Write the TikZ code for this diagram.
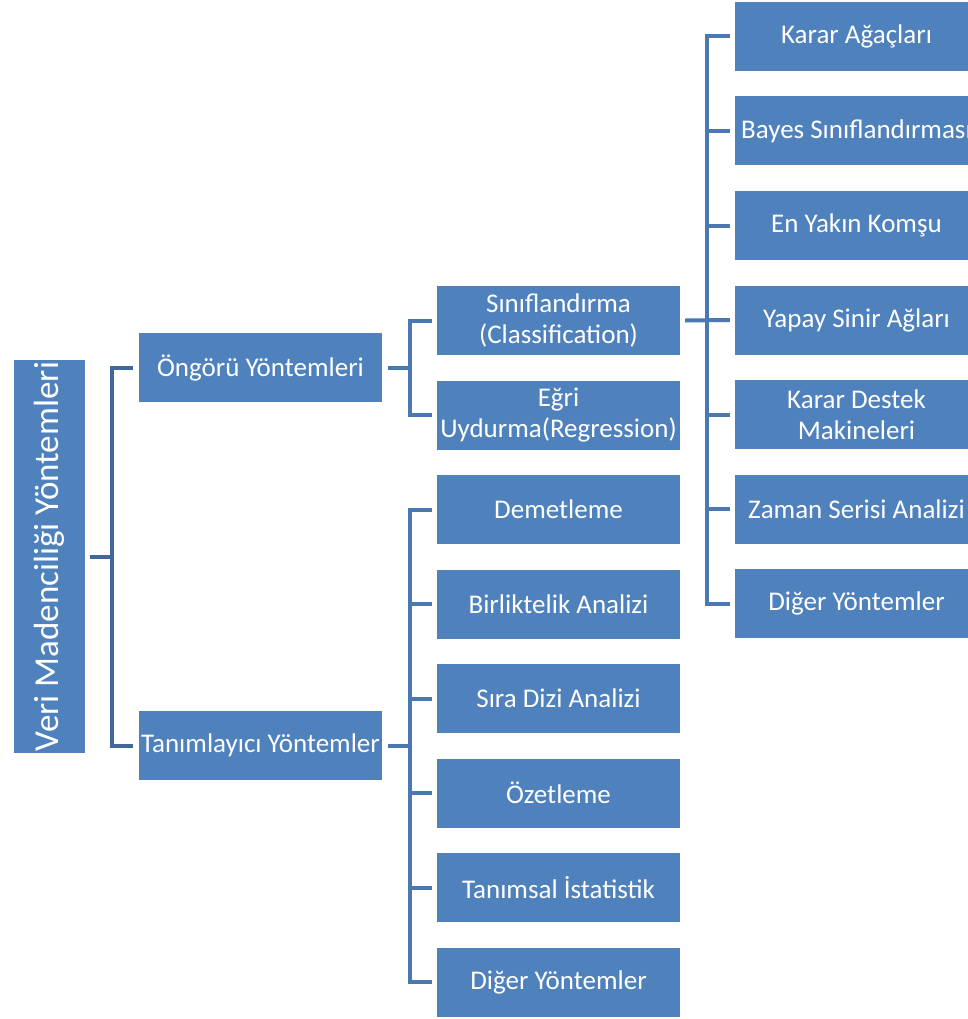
\documentclass[tikz,border=0pt]{standalone}
\usepackage{fontspec}
\setmainfont{Carlito}

\definecolor{boxblue}{HTML}{4F81BD}
\definecolor{rootline}{HTML}{41679B}
\definecolor{treeline}{HTML}{4A78B3}

\tikzset{
  box/.style={fill=boxblue, text=white, minimum width=243, minimum height=69,
    inner sep=0pt, align=center, font=\fontsize{27}{31}\selectfont},
  link/.style={draw=treeline, line width=4},
}

\begin{document}
\begin{tikzpicture}[x=1pt, y=-1pt]
  \useasboundingbox (0,0) rectangle (967,1019);
  % root
  \node[fill=boxblue, text=white, minimum width=71, minimum height=393, inner sep=0pt] (root) at (49,556.5) {};
  \node[rotate=90, text=white, font=\fontsize{35}{40}\selectfont] (roottext) at (root.center) {Veri Madenciliği Yöntemleri};
  % first level
  \node[box] (ongoru) at (260.5,367.75) {Öngörü Yöntemleri};
  \node[box] (tanim) at (260.5,745.75) {Tanımlayıcı Yöntemler};
  % second level
  \node[box] (sinif) at (558.5,320.5) {Sınıflandırma\\(Classification)};
  \node[box] (egri) at (558.5,415) {Eğri\\Uydurma(Regression)};
  \node[box] (demet) at (558.5,509.5) {Demetleme};
  \node[box] (birlik) at (558.5,604) {Birliktelik Analizi};
  \node[box] (sira) at (558.5,698.5) {Sıra Dizi Analizi};
  \node[box] (ozet) at (558.5,793) {Özetleme};
  \node[box] (istat) at (558.5,887.5) {Tanımsal İstatistik};
  \node[box] (diger) at (558.5,982) {Diğer Yöntemler};
  % third level
  \node[box] (karar) at (856.5,36.5) {Karar Ağaçları};
  \node[box] (bayes) at (856.5,131) {Bayes Sınıflandırması};
  \node[box] (komsu) at (856.5,225.5) {En Yakın Komşu};
  \node[box] (sinir) at (856.5,320) {Yapay Sinir Ağları};
  \node[box] (destek) at (856.5,414.5) {Karar Destek\\Makineleri};
  \node[box] (zaman) at (856.5,509) {Zaman Serisi Analizi};
  \node[box] (diger2) at (856.5,603.5) {Diğer Yöntemler};

  % root to first level
  \draw[link, draw=rootline] ([xshift=5]root.east) -- ([xshift=-27]ongoru.west |- root.east);
  \draw[link, draw=rootline] ([xshift=-6]ongoru.west) -| ([xshift=-27]ongoru.west) |- ([xshift=-6]tanim.west);
  % first level to second level
  \draw[link] ([xshift=6]ongoru.east) -- ([xshift=-27]sinif.west |- ongoru.east);
  \draw[link] ([xshift=-5]sinif.west) -| ([xshift=-27]sinif.west) |- ([xshift=-5]egri.west);
  \draw[link] ([xshift=6]tanim.east) -- ([xshift=-27]demet.west |- tanim.east);
  \draw[link] ([xshift=-5]demet.west) -| ([xshift=-27]demet.west) |- ([xshift=-5]diger.west);
  \draw[link] ([xshift=-27]birlik.west) -- ([xshift=-5]birlik.west);
  \draw[link] ([xshift=-27]sira.west) -- ([xshift=-5]sira.west);
  \draw[link] ([xshift=-27]ozet.west) -- ([xshift=-5]ozet.west);
  \draw[link] ([xshift=-27]istat.west) -- ([xshift=-5]istat.west);
  % second level to third level
  \draw[link] ([xshift=5]sinif.east) -- ([xshift=-5]sinir.west);
  \draw[link] ([xshift=-5]karar.west) -| ([xshift=-28]karar.west) |- ([xshift=-5]diger2.west);
  \draw[link] ([xshift=-28]bayes.west) -- ([xshift=-5]bayes.west);
  \draw[link] ([xshift=-28]komsu.west) -- ([xshift=-5]komsu.west);
  \draw[link] ([xshift=-28]destek.west) -- ([xshift=-5]destek.west);
  \draw[link] ([xshift=-28]zaman.west) -- ([xshift=-5]zaman.west);
\end{tikzpicture}
\end{document}
